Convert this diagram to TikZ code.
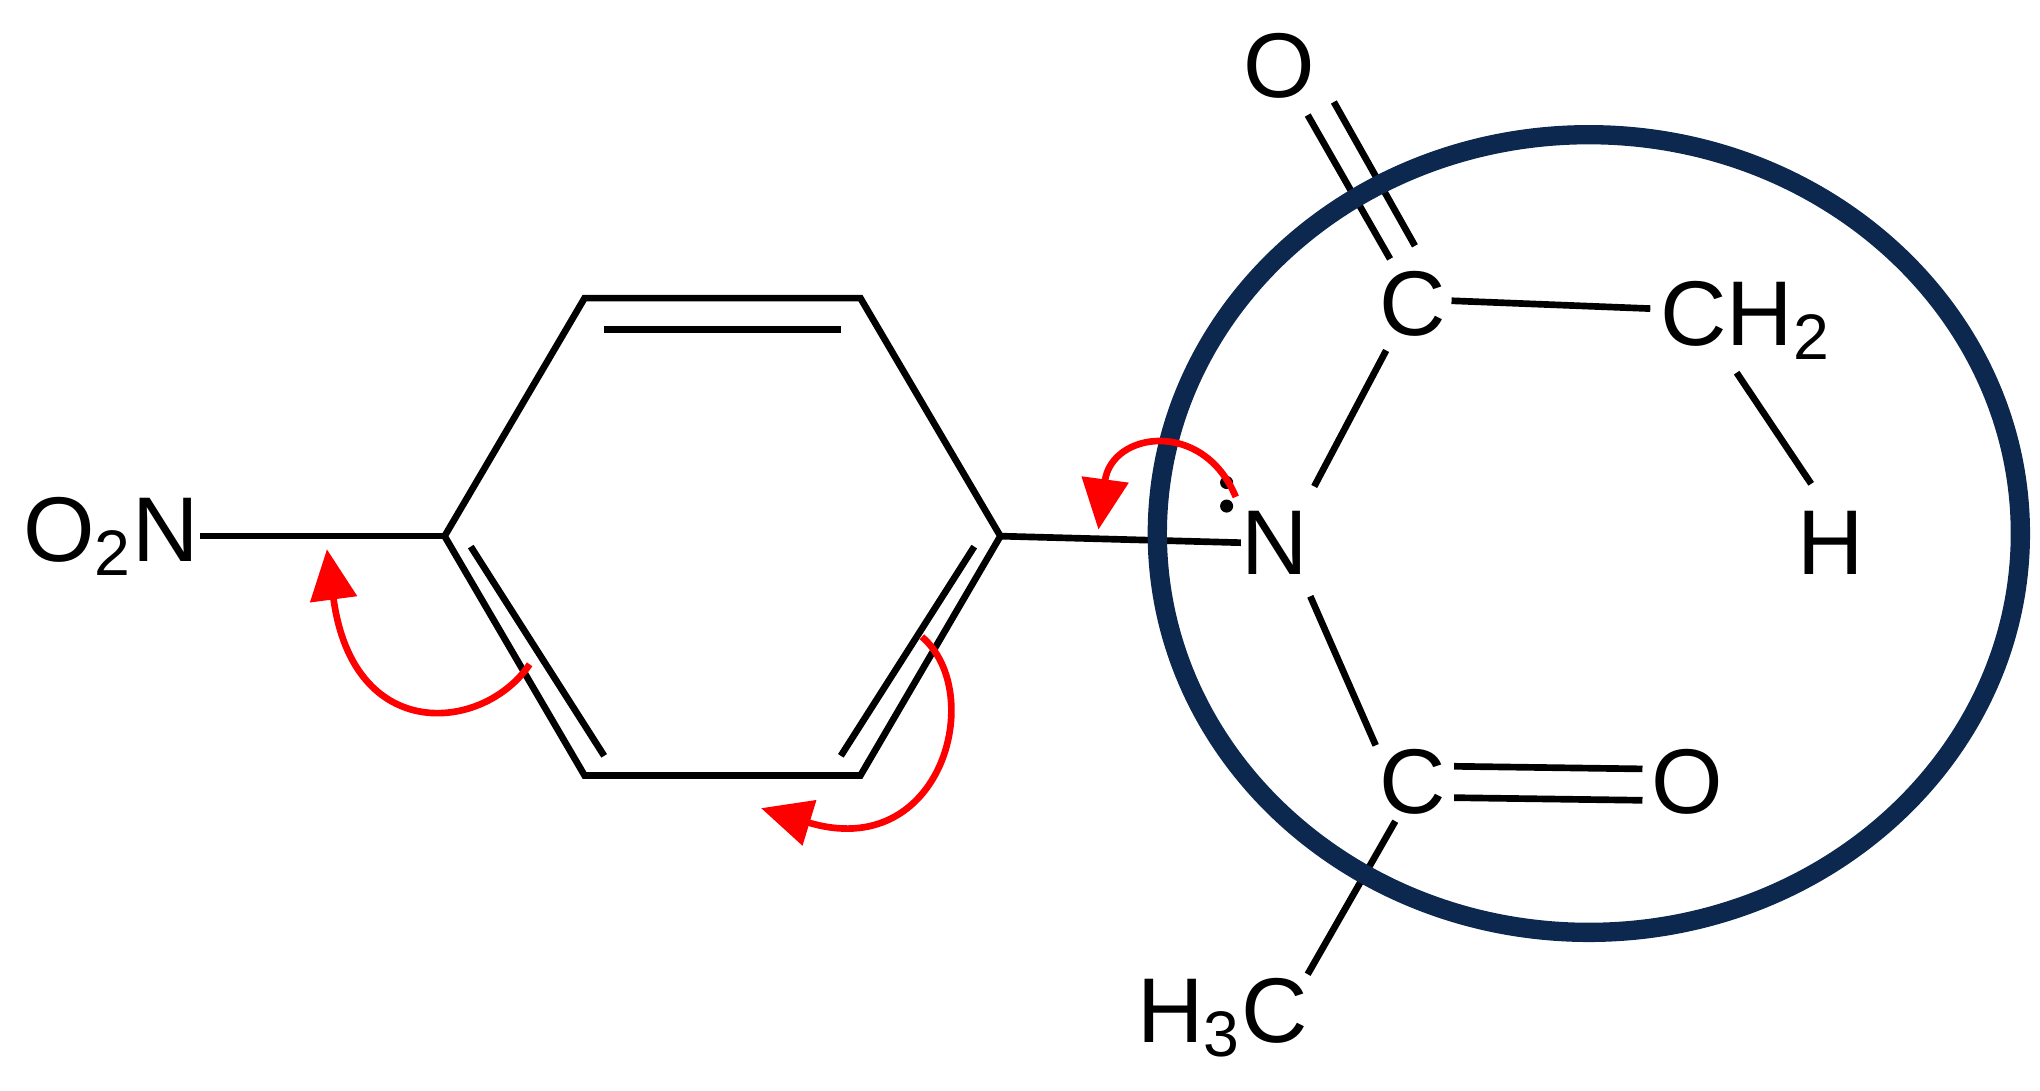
\documentclass[tikz,border=0pt]{standalone}
\usepackage{fontspec}
\setmainfont{Liberation Sans}
\usetikzlibrary{arrows.meta}
\begin{document}
\begin{tikzpicture}[x=0.01cm,y=-0.01cm,
  bond/.style={line width=1.45pt,black},
  atom/.style={font=\fontsize{20}{24}\selectfont,inner sep=0pt},
  push/.style={red,line width=1.45pt,-{Triangle[length=11pt,width=10pt]}}]
\useasboundingbox (0,0) rectangle (1560,834);
\coordinate (r1) at (447,228); \coordinate (r2) at (658,228);
\coordinate (r3) at (765,410); \coordinate (r4) at (658,593);
\coordinate (r5) at (447,593); \coordinate (r6) at (340,410);
\draw[bond] (r1)--(r2)--(r3)--(r4)--(r5)--(r6)--cycle;
\draw[bond] (462,252)--(643,252);
\draw[bond] (745,418)--(643,578);
\draw[bond] (360,418)--(462,578);
\node[atom] (no2) at (85,410) {O\textsubscript{2}N};
\node[atom] (N) at (975,415) {N};
\node[atom] (C1) at (1080,232) {C};
\node[atom] (O1) at (978,50) {O};
\node[atom] (CH2) at (1335,245) {CH\textsubscript{2}};
\node[atom] (H) at (1400,415) {H};
\node[atom] (C2) at (1080,598) {C};
\node[atom] (O2) at (1290,598) {O};
\node[atom] (H3C) at (935,778) {H\textsubscript{3}C};
\fill (938,369) circle (5); \fill (938,387) circle (5);
\draw[bond] (no2.east)--(r6);
\draw[bond] (r3)--(N.west);
\draw[bond] (1005,372)--(1060,268);
\draw[bond] (1000,88)--(1063,198);
\draw[bond] (1020,78)--(1082,188);
\draw[bond] (1110,230)--(1262,236);
\draw[bond] (1328,285)--(1385,370);
\draw[bond] (1002,456)--(1052,570);
\draw[bond] (1112,586)--(1256,588);
\draw[bond] (1112,610)--(1256,612);
\draw[bond] (1067,628)--(1000,745);
\draw[line width=4.2pt,color={rgb,255:red,13;green,40;blue,78}] (1215,408) ellipse [x radius=330,y radius=305];
\draw[push] (405,508) .. controls (370,560) and (270,570) .. (250,420);
\draw[push] (705,487) .. controls (755,530) and (720,660) .. (582,618);
\draw[push] (945,380) .. controls (920,320) and (850,330) .. (840,405);
\end{tikzpicture}
\end{document}
